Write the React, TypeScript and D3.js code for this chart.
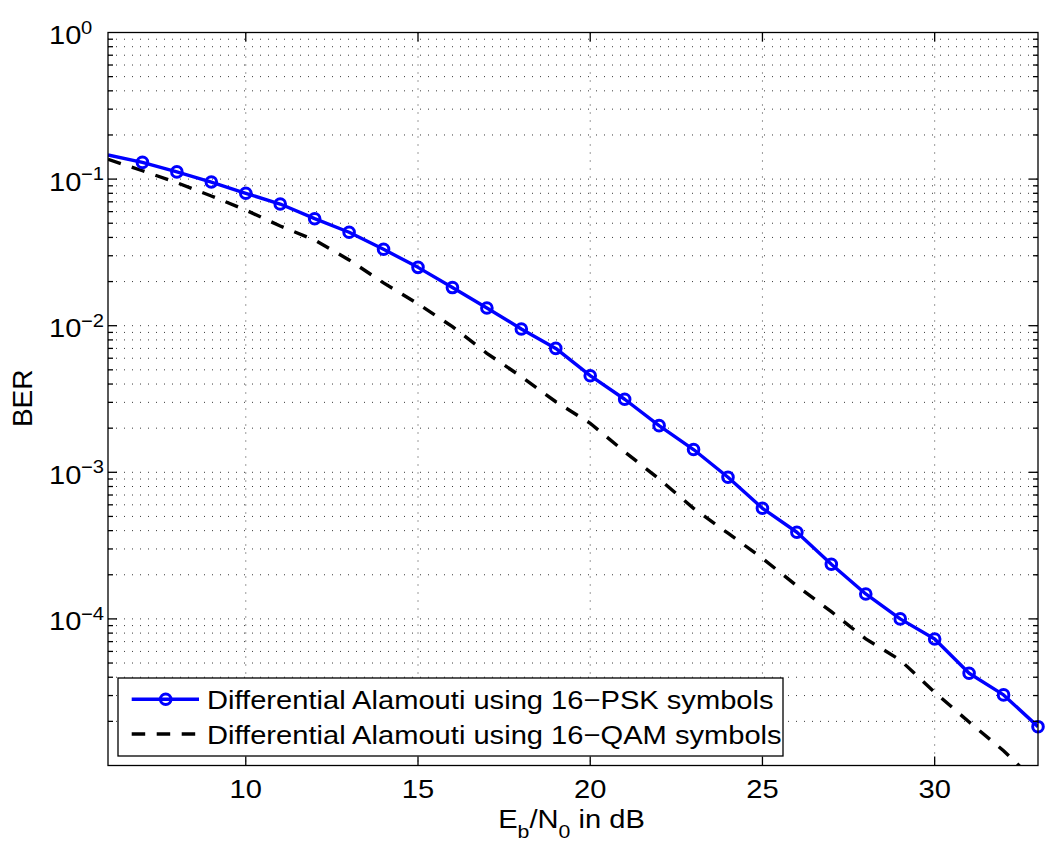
import React from 'react';
import * as d3 from 'd3';

// Eb/N0 (dB) sample points
const snrDb = [6, 7, 8, 9, 10, 11, 12, 13, 14, 15, 16, 17, 18, 19, 20, 21, 22, 23, 24, 25, 26, 27, 28, 29, 30, 31, 32, 33];

// Differential Alamouti, 16-PSK
const berPsk = [
  0.146, 0.130, 0.112, 0.0955, 0.080, 0.0676, 0.0537, 0.0434, 0.0332, 0.0250,
  0.0182, 0.0132, 0.0095, 0.0070, 0.00456, 0.00315, 0.00208, 0.00143, 0.000925, 0.000568,
  0.000390, 0.000236, 0.000148, 0.000100, 0.0000729, 0.0000426, 0.0000303, 0.0000184,
];

// Differential Alamouti, 16-QAM
const berQam = [
  0.1365, 0.114, 0.0945, 0.0767, 0.0615, 0.0479, 0.0384, 0.0281, 0.0196, 0.0141,
  0.00985, 0.00648, 0.00449, 0.00303, 0.00216, 0.00138, 0.00090, 0.000568, 0.000384, 0.000259,
  0.000168, 0.000112, 0.000073, 0.0000524, 0.0000316, 0.0000198, 0.0000126, 0.0000075,
];

const xTicks = [10, 15, 20, 25, 30];
const yExponents = [0, -1, -2, -3, -4];
const legendLabels = [
  'Differential Alamouti using 16\u2212PSK symbols',
  'Differential Alamouti using 16\u2212QAM symbols',
];

const FONT = '"Liberation Sans", Arial, Helvetica, sans-serif';
const SX = 1.12; // horizontal text stretch

export default function App() {
  const W = 1053;
  const H = 848;
  const left = 108;
  const right = 1038;
  const top = 32.5;
  const bottom = 765.5;

  const x = d3.scaleLinear().domain([6, 33]).range([left, right]);
  const y = d3.scaleLog().domain([1e-5, 1]).range([bottom, top]);

  const psk: [number, number][] = snrDb.map((s, i) => [s, berPsk[i]]);
  const qam: [number, number][] = snrDb.map((s, i) => [s, berQam[i]]);

  const line = d3
    .line<[number, number]>()
    .x((d) => x(d[0]))
    .y((d) => y(d[1]));

  // minor decade positions 2..9 x 10^k
  const minor: number[] = [];
  for (let e = -5; e < 0; e++) {
    for (let m = 2; m <= 9; m++) minor.push(m * Math.pow(10, e));
  }
  const majorInner = [1e-1, 1e-2, 1e-3, 1e-4];

  const gridStyle = { stroke: '#3a3a3a', strokeWidth: 1, strokeDasharray: '1 7', fill: 'none' };

  const legendX = 118;
  const legendY = 678;
  const legendW = 665;
  const legendH = 78;
  const rowY = [699.3, 734];

  return (
    <svg
      width={W}
      height={H}
      style={{ position: 'absolute', left: 0, top: 0, background: '#fff' }}
      fontFamily={FONT}
    >
      <rect x={0} y={0} width={W} height={H} fill="#fff" />
      <defs>
        <clipPath id="plotArea">
          <rect x={left} y={top} width={right - left} height={bottom - top} />
        </clipPath>
      </defs>

      {/* grid */}
      <g>
        {minor.concat(majorInner).map((v, i) => (
          <line key={'hg' + i} x1={left} x2={right} y1={y(v)} y2={y(v)} {...gridStyle} />
        ))}
        {xTicks.map((t) => (
          <line key={'vg' + t} x1={x(t)} x2={x(t)} y1={top} y2={bottom} {...gridStyle} />
        ))}
      </g>

      {/* curves */}
      <g clipPath="url(#plotArea)">
        <path d={line(psk) || ''} fill="none" stroke="#0000ff" strokeWidth={3.4} strokeLinejoin="round" />
        <path
          d={line(qam) || ''}
          fill="none"
          stroke="#000"
          strokeWidth={3.4}
          strokeDasharray="13.5 11.5"
        />
      </g>
      <g>
        {psk
          .filter((d) => d[0] > x.domain()[0])
          .map((d) => (
            <circle key={'m' + d[0]} cx={x(d[0])} cy={y(d[1])} r={5.3} fill="none" stroke="#0000ff" strokeWidth={3} />
          ))}
      </g>

      {/* axes box and ticks */}
      <g stroke="#000" strokeWidth={1.3} fill="none">
        <rect x={left} y={top} width={right - left} height={bottom - top} />
        {xTicks.map((t) => (
          <g key={'xt' + t}>
            <line x1={x(t)} x2={x(t)} y1={bottom} y2={bottom - 9} />
            <line x1={x(t)} x2={x(t)} y1={top} y2={top + 9} />
          </g>
        ))}
        {majorInner.map((v, i) => (
          <g key={'yt' + i}>
            <line x1={left} x2={left + 9} y1={y(v)} y2={y(v)} />
            <line x1={right} x2={right - 9} y1={y(v)} y2={y(v)} />
          </g>
        ))}
        {minor.map((v, i) => (
          <g key={'ym' + i}>
            <line x1={left} x2={left + 5} y1={y(v)} y2={y(v)} />
            <line x1={right} x2={right - 5} y1={y(v)} y2={y(v)} />
          </g>
        ))}
      </g>

      {/* x tick labels */}
      <g fontSize={26} fill="#000">
        {xTicks.map((t) => (
          <text key={'xl' + t} transform={`translate(${x(t)},798) scale(${SX},1)`} textAnchor="middle">
            {t}
          </text>
        ))}
      </g>

      {/* y tick labels */}
      <g fill="#000">
        {yExponents.map((e) => {
          const yy = y(Math.pow(10, e));
          return (
            <g key={'yl' + e}>
              <text transform={`translate(81.5,${yy + 11.5}) scale(${SX},1)`} textAnchor="end" fontSize={26}>
                10
              </text>
              <text transform={`translate(81,${yy + 1}) scale(${SX},1)`} textAnchor="start" fontSize={18}>
                {e === 0 ? '0' : '\u2212' + Math.abs(e)}
              </text>
            </g>
          );
        })}
      </g>

      {/* axis labels */}
      <text transform={`translate(571.5,828) scale(${SX},1)`} textAnchor="middle" fontSize={26} fill="#000">
        E<tspan fontSize={19} dy={10}>b</tspan>
        <tspan dy={-10}>/N</tspan>
        <tspan fontSize={19} dy={10}>0</tspan>
        <tspan dy={-10}> in dB</tspan>
      </text>
      <text transform="translate(31.5,398.3) rotate(-90)" textAnchor="middle" fontSize={28} fill="#000">
        BER
      </text>

      {/* legend */}
      <g>
        <rect x={legendX} y={legendY} width={legendW} height={legendH} fill="#fff" stroke="#000" strokeWidth={1.3} />
        <line x1={131.7} x2={199} y1={rowY[0]} y2={rowY[0]} stroke="#0000ff" strokeWidth={3.4} />
        <circle cx={165.7} cy={rowY[0]} r={5.3} fill="none" stroke="#0000ff" strokeWidth={3} />
        <line x1={131.7} x2={199} y1={rowY[1]} y2={rowY[1]} stroke="#000" strokeWidth={3.4} strokeDasharray="13.5 11.5" />
        {legendLabels.map((lab, i) => (
          <text
            key={lab}
            transform={`translate(207,${rowY[i] + 10}) scale(${SX},1)`}
            fontSize={26}
            fill="#000"
          >
            {lab}
          </text>
        ))}
      </g>
    </svg>
  );
}
